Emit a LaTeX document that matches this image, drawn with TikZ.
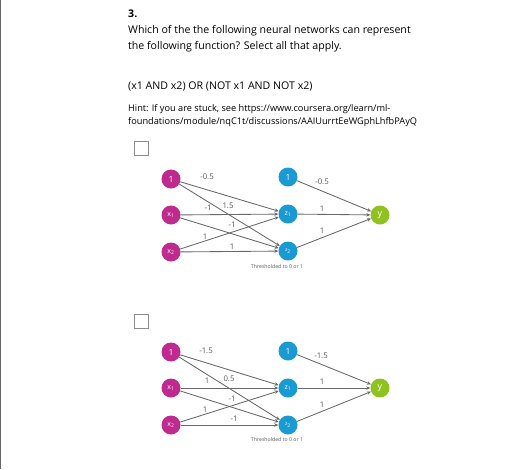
\documentclass[tikz,border=0pt]{standalone}
\usepackage{fontspec}
\setmainfont{Open Sans}
\usetikzlibrary{arrows.meta}
\definecolor{inp}{HTML}{BE2A8E}
\definecolor{hid}{HTML}{1A9AD2}
\definecolor{outc}{HTML}{8FC21E}
\definecolor{edgec}{HTML}{686868}
\definecolor{lblc}{HTML}{5A5A5A}
\tikzset{
  neuron/.style={circle,minimum size=19pt,inner sep=0pt,text=white,font=\fontsize{7}{8}\selectfont},
  inneuron/.style={neuron,fill=inp},
  hidneuron/.style={neuron,fill=hid},
  outneuron/.style={neuron,fill=outc},
  conn/.style={draw=edgec,line width=0.85pt,-{Stealth[length=4pt,width=3.5pt]}},
  wlabel/.style={text=lblc,font=\fontsize{7.8}{8}\selectfont,inner sep=0pt},
  body/.style={anchor=base west,inner sep=0pt,font=\fontsize{10.6}{12}\selectfont},
  hint/.style={anchor=base west,inner sep=0pt,font=\fontsize{9.2}{11}\selectfont},
  tiny/.style={text=lblc,font=\fontsize{5.2}{6}\selectfont,inner sep=0pt},
  cbox/.style={draw=black!45,line width=0.9pt,minimum size=14pt,inner sep=0pt}
}
\begin{document}
\begin{tikzpicture}[x=1pt,y=-1pt]
\useasboundingbox (0,0) rectangle (526,469);
\fill[white] (0,0) rectangle (526,469);
\draw[black!60,line width=1.2pt] (0.6,0) -- (0.6,469);
\node[body] (q) at (128,17) {\textbf{3.}};
\node[body] (l1) at (128,33) {Which of the the following neural networks can represent};
\node[body] (l2) at (128,49) {the following function? Select all that apply.};
\node[body] (fn) at (128,89) {(x1 AND x2) OR (NOT x1 AND NOT x2)};
\node[hint] (h1) at (128,111.5) {Hint: If you are stuck, see https://www.coursera.org/learn/ml-};
\node[hint] (h2) at (128,124.5) {foundations/module/nqC1t/discussions/AAIUurrtEeWGphLhfbPAyQ};
% ---------- network A ----------
\node[cbox] (cba) at (141.5,148) {};
\node[inneuron] (a1) at (171,179) {\fontsize{8.5}{9}\selectfont 1};
\node[inneuron] (ax1) at (171,215) {x\textsubscript{1}};
\node[inneuron] (ax2) at (171,252) {x\textsubscript{2}};
\node[hidneuron] (ah1) at (288,177) {\fontsize{8.5}{9}\selectfont 1};
\node[hidneuron] (az1) at (288,214) {z\textsubscript{1}};
\node[hidneuron] (az2) at (288,251) {\fontsize{5}{6}\selectfont z\textsubscript{2}};
\node[outneuron] (ay) at (380,215) {\fontsize{9}{10}\selectfont y};
\foreach \s in {a1,ax1,ax2} {\foreach \t in {az1,az2} {\draw[conn] (\s) -- (\t);}}
\foreach \s in {ah1,az1,az2} {\draw[conn] (\s) -- (ay);}
\node[wlabel] (aw1) at (207,177) {-0.5};
\node[wlabel] (aw2) at (208,208) {-1};
\node[wlabel] (aw3) at (228,206) {1.5};
\node[wlabel] (aw4) at (232,225) {-1};
\node[wlabel] (aw5) at (205,237) {1};
\node[wlabel] (aw6) at (232,247) {1};
\node[wlabel] (aw7) at (322,182) {-0.5};
\node[wlabel] (aw8) at (322,209) {1};
\node[wlabel] (aw9) at (322,231) {1};
\node[tiny] (ath) at (277,267) {Thresholded to 0 or 1};
% ---------- network B ----------
\node[cbox] (cbb) at (141.5,321) {};
\node[inneuron] (b1) at (171,352) {\fontsize{8.5}{9}\selectfont 1};
\node[inneuron] (bx1) at (171,388) {x\textsubscript{1}};
\node[inneuron] (bx2) at (171,425) {x\textsubscript{2}};
\node[hidneuron] (bh1) at (288,351) {\fontsize{8.5}{9}\selectfont 1};
\node[hidneuron] (bz1) at (288,388) {z\textsubscript{1}};
\node[hidneuron] (bz2) at (288,425) {\fontsize{5}{6}\selectfont z\textsubscript{2}};
\node[outneuron] (by) at (380,388) {\fontsize{9}{10}\selectfont y};
\foreach \s in {b1,bx1,bx2} {\foreach \t in {bz1,bz2} {\draw[conn] (\s) -- (\t);}}
\foreach \s in {bh1,bz1,bz2} {\draw[conn] (\s) -- (by);}
\node[wlabel] (bw1) at (206,351) {-1.5};
\node[wlabel] (bw2) at (207,381) {1};
\node[wlabel] (bw3) at (229,379) {0.5};
\node[wlabel] (bw4) at (232,399) {-1};
\node[wlabel] (bw5) at (205,410) {1};
\node[wlabel] (bw6) at (234,419) {-1};
\node[wlabel] (bw7) at (321,356) {-1.5};
\node[wlabel] (bw8) at (322,382) {1};
\node[wlabel] (bw9) at (322,405) {1};
\node[tiny] (bth) at (277,440) {Thresholded to 0 or 1};
\end{tikzpicture}
\end{document}
